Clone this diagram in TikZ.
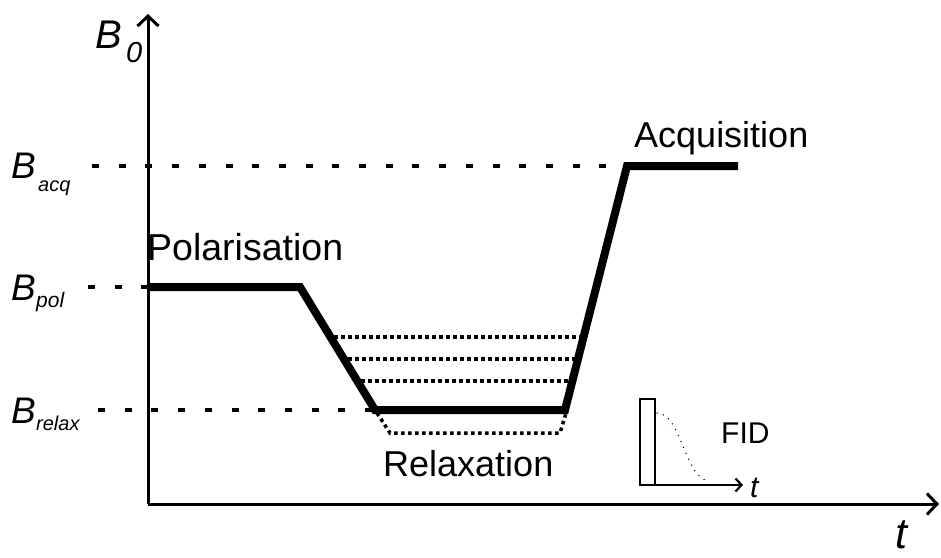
\documentclass[tikz,border=0pt]{standalone}
\usepackage{fontspec}
\setmainfont{Liberation Sans}
\usetikzlibrary{arrows.meta}
\newcommand\fsz[1]{\fontsize{#1}{#1}\selectfont}
\begin{document}
\begin{tikzpicture}[x=1pt,y=-1pt,
  axisline/.style={line width=3pt,-{Straight Barb[length=10pt,width=21pt]}},
  profile/.style={line width=8pt,line join=miter},
  guide/.style={line width=3.5pt,dash pattern=on 7pt off 19.7pt},
  level/.style={line width=3.5pt,dash pattern=on 3.5pt off 3.5pt},
  lbl/.style={inner sep=0pt,anchor=base west}]
\useasboundingbox (0,0) rectangle (941,557);

% axes
\coordinate (O) at (148,504);
\coordinate (ytip) at (148,14);
\coordinate (xtip) at (939,504);
\draw[axisline] (O) -- (ytip);
\draw[axisline] (O) -- (xtip);

% field levels
\coordinate (acq0) at (92,166);
\coordinate (pol0) at (88,287);
\coordinate (rel0) at (98,410);
\coordinate (p1) at (148,287);
\coordinate (p2) at (300,287);
\coordinate (p3) at (375,410);
\coordinate (p4) at (565,410);
\coordinate (p5) at (627,166);
\coordinate (p6) at (738,166);

\draw[guide] (acq0) -- (p5);
\draw[guide] (pol0) -- (p1);
\draw[guide] (rel0) -- (p3);

% alternative relaxation levels
\coordinate (l1a) at (334,337); \coordinate (l1b) at (582,337);
\coordinate (l2a) at (348,359); \coordinate (l2b) at (575,359);
\coordinate (l3a) at (361,381); \coordinate (l3b) at (569,381);
\draw[level] (l1a) -- (l1b);
\draw[level] (l2a) -- (l2b);
\draw[level] (l3a) -- (l3b);
\coordinate (q1) at (377,413);
\coordinate (q2) at (390,433);
\coordinate (q3) at (560,433);
\coordinate (q4) at (566,413);
\draw[level] (q1) -- (q2) -- (q3) -- (q4);

% field cycle
\draw[profile] (p1) -- (p2) -- (p3) -- (p4) -- (p5) -- (p6);

% axis labels
\node[lbl] (b0) at (95,48) {\fsz{40}\itshape B};
\node[lbl] (b0s) at (126,62) {\fsz{29}\itshape 0};
\node[lbl] (bacq) at (11,178) {\fsz{37}\itshape B};
\node[lbl] (bacqs) at (38,191) {\fsz{20}\itshape acq};
\node[lbl] (bpol) at (11,300) {\fsz{37}\itshape B};
\node[lbl] (bpols) at (36,307) {\fsz{21}\itshape pol};
\node[lbl] (brel) at (11,423) {\fsz{37}\itshape B};
\node[lbl] (brels) at (36,430) {\fsz{20}\itshape relax};
\node[lbl] (tbig) at (895,548) {\fsz{43}\itshape t};

% phase labels
\node[lbl] (pol) at (147,260) {\fsz{37.5}Polarisation};
\node[lbl] (acq) at (634,147) {\fsz{36}Acquisition};
\node[lbl] (rel) at (383,476) {\fsz{36}Relaxation};

% FID inset
\coordinate (f0) at (640,485);
\coordinate (ftip) at (743,485);
\draw[line width=1.6pt] (640,399) rectangle (655,485);
\draw[line width=2.2pt,-{Straight Barb[length=6pt,width=13pt]}] (f0) -- (ftip);
\coordinate (c0) at (657,413);
\coordinate (c1) at (709,481);
\draw[line width=1.5pt,line cap=round,dash pattern=on 0pt off 6.5pt]
  (c0) .. controls (682,414) and (684,478) .. (c1);
\node[lbl] (fid) at (721,443) {\fsz{30}FID};
\node[lbl] (tsmall) at (750,497) {\fsz{30}\itshape t};
\end{tikzpicture}
\end{document}
